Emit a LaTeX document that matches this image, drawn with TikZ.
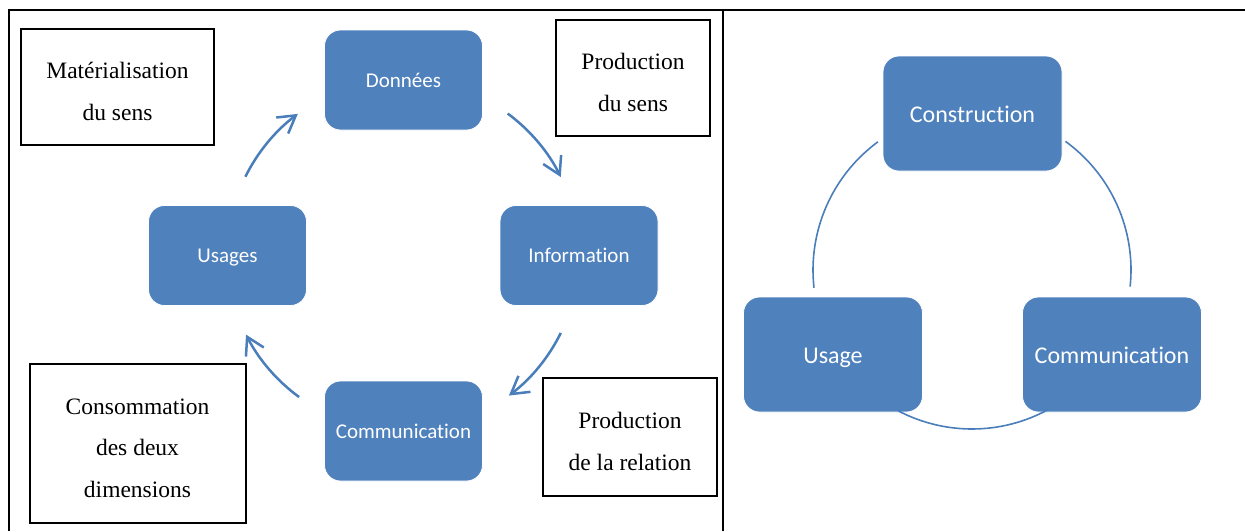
\documentclass[tikz,border=0pt]{standalone}
\usepackage{fontspec}
\setmainfont{Liberation Serif}
\newfontfamily\calib[Ligatures=NoCommon]{Carlito}
\usetikzlibrary{arrows.meta}
\definecolor{sblue}{HTML}{4F81BD}
\definecolor{lblue}{HTML}{4A7EBB}
\newcommand{\firststrut}{\rule{0pt}{25pt}}
\tikzset{
  bluebox/.style={fill=sblue, draw=white, line width=0.8pt, rounded corners=16pt, text=white, inner sep=0pt},
  smallblue/.style={bluebox, minimum width=158pt, minimum height=100pt, text height=15pt, text depth=0.5pt, font=\calib\fontsize{21}{25}\selectfont},
  bigblue/.style={bluebox, minimum width=179pt, minimum height=115pt, text height=18.5pt, text depth=1pt, font=\calib\fontsize{24}{28}\selectfont},
  textbox/.style={draw=black, line width=2pt, align=center, inner sep=0pt, font=\fontsize{23.5}{41.5}\selectfont},
  cyc/.style={draw=lblue, line width=2.5pt, -{Straight Barb[length=17pt,width=20pt]}},
  ring/.style={draw=lblue, line width=1.6pt},
  rule/.style={draw=black, line width=2pt}
}
\begin{document}
\begin{tikzpicture}[x=1pt,y=-1pt]
\useasboundingbox (0,0) rectangle (1245,531);
% table lines
\coordinate (tl) at (8.5,10);
\coordinate (tr) at (1245,10);
\coordinate (bl) at (8.5,531);
\coordinate (dt) at (722.5,10);
\coordinate (db) at (722.5,531);
\draw[rule] (bl) -- (tl) -- (tr);
\draw[rule] (dt) -- (db);
% left cycle
\node[smallblue] (don) at (403.5,80) {Données};
\node[smallblue] (inf) at (579,255.5) {Information};
\node[smallblue] (usa) at (227.5,255.5) {Usages};
\node[smallblue] (com) at (403.5,431) {Communication};
\coordinate (lc) at (403,255);
\draw[cyc] ([shift={(-53.5:176)}]lc) arc[start angle=-53.5, end angle=-26.3, radius=176];
\draw[cyc] ([shift={(26.3:176)}]lc) arc[start angle=26.3, end angle=53, radius=176];
\draw[cyc] ([shift={(126.2:176)}]lc) arc[start angle=126.2, end angle=153.1, radius=176];
\draw[cyc] ([shift={(206.4:176)}]lc) arc[start angle=206.4, end angle=233.3, radius=176];
% text boxes
\node[textbox, minimum width=193pt, minimum height=116pt] (mat) at (117.5,87) {\firststrut Matérialisation\\du sens};
\node[textbox, minimum width=154pt, minimum height=116pt] (pds) at (633,78) {\firststrut Production\\du sens};
\node[textbox, minimum width=216pt, minimum height=159pt] (cons) at (137.5,443.5) {\firststrut Consommation\\des deux\\dimensions};
\node[textbox, minimum width=174pt, minimum height=118pt] (pdr) at (630,437) {\firststrut Production\\de la relation};
% right cycle
\node[bigblue] (cst) at (972.5,113.5) {Construction};
\node[bigblue] (usg) at (833,354.5) {Usage};
\node[bigblue] (cmr) at (1112,354.5) {Communication};
\coordinate (rc) at (972,270);
\draw[ring] ([shift={(-126.3:159)}]rc) arc[start angle=-126.3, end angle=-186.4, radius=159];
\draw[ring] ([shift={(-54:159)}]rc) arc[start angle=-54, end angle=6, radius=159];
\draw[ring] ([shift={(117.7:159)}]rc) arc[start angle=117.7, end angle=61.6, radius=159];
\end{tikzpicture}
\end{document}
